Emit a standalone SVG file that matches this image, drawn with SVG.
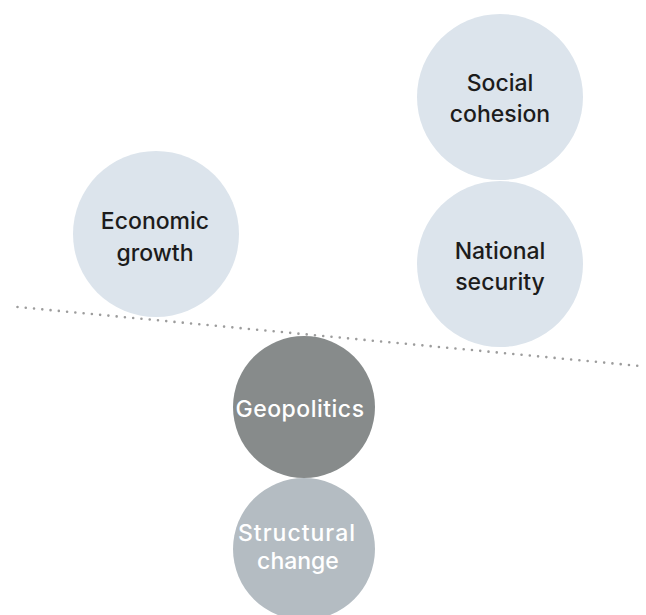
<svg xmlns="http://www.w3.org/2000/svg" width="646" height="615" viewBox="0 0 646 615">
  <style>
    .light { fill: #dce4ec; }
    .dark { fill: #878b8b; }
    .mid { fill: #b4bcc2; }
    .lbl { font-family: "Inter", "Liberation Sans", sans-serif; font-size: 23px; font-weight: 500; text-anchor: middle; }
    .lbl-dark { fill: #1c1c1c; }
    .lbl-light { fill: #ffffff; }
    .balance { stroke: #9c9c9c; stroke-width: 2.6; stroke-linecap: round; stroke-dasharray: 0 8.3; fill: none; }
  </style>
  <rect width="646" height="615" fill="#ffffff"/>

  <!-- tilted dotted balance beam -->
  <g id="connectors">
    <line class="balance" x1="17.5" y1="307" x2="640" y2="366"/>
  </g>

  <g id="economic-growth">
    <circle class="light" cx="156" cy="234" r="83"/>
    <text class="lbl lbl-dark" x="155" y="229">Economic</text>
    <text class="lbl lbl-dark" x="155" y="261">growth</text>
  </g>

  <g id="social-cohesion">
    <circle class="light" cx="500" cy="97" r="83"/>
    <text class="lbl lbl-dark" x="500" y="91">Social</text>
    <text class="lbl lbl-dark" x="500" y="122">cohesion</text>
  </g>

  <g id="national-security">
    <circle class="light" cx="500" cy="264" r="83"/>
    <text class="lbl lbl-dark" x="500" y="259">National</text>
    <text class="lbl lbl-dark" x="500" y="290">security</text>
  </g>

  <g id="geopolitics">
    <circle class="dark" cx="304" cy="407" r="71"/>
    <text class="lbl lbl-light" x="300" y="417" letter-spacing="0.5">Geopolitics</text>
  </g>

  <g id="structural-change">
    <circle class="mid" cx="304" cy="549" r="71"/>
    <text class="lbl lbl-light" x="297" y="541" letter-spacing="1">Structural</text>
    <text class="lbl lbl-light" x="298" y="569">change</text>
  </g>
</svg>
